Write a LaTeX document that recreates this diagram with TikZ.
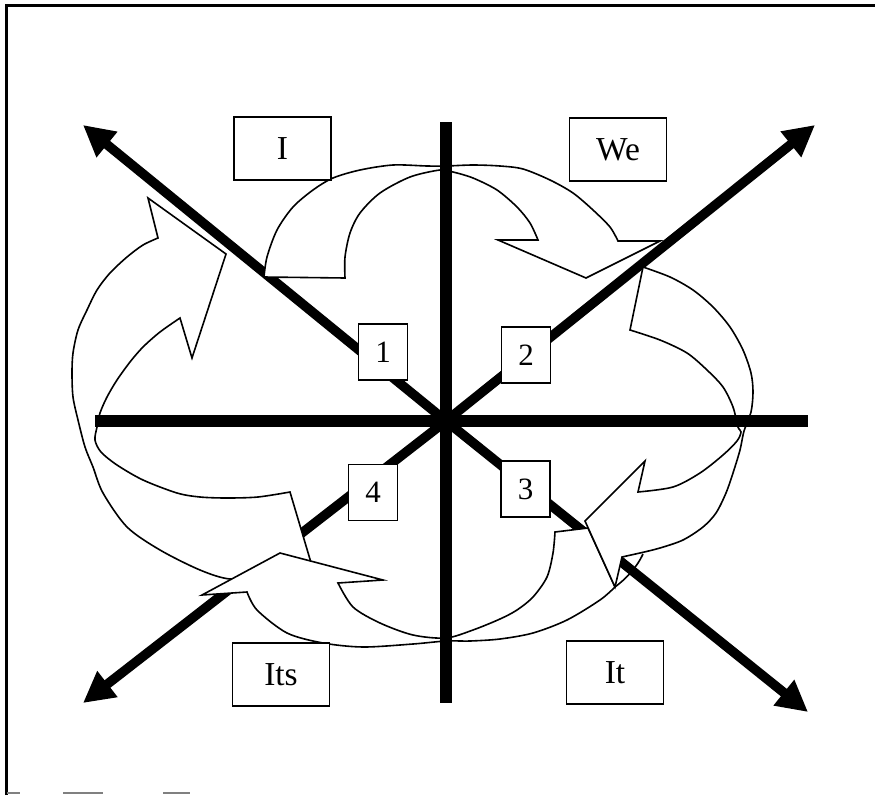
\documentclass[tikz,border=0pt]{standalone}
\usepackage{fontspec}
\setmainfont{Liberation Serif}
\usetikzlibrary{arrows.meta}
\begin{document}
\begin{tikzpicture}[x=1pt,y=-1pt,
  axisbar/.style={line width=12pt},
  diagbar/.style={line width=9.5pt,-{Triangle[length=31pt,width=31pt]}},
  ribbon/.style={draw=black,fill=white,line width=1.6pt,line join=miter},
  lbl/.style={draw,fill=white,line width=1.7pt,minimum width=97pt,minimum height=63pt,inner sep=0pt,font=\fontsize{33.5}{40}\selectfont},
  num/.style={draw,fill=white,line width=1.7pt,minimum width=49pt,minimum height=56pt,inner sep=0pt,font=\fontsize{31}{37}\selectfont},
]
\fill[white] (0,0) rectangle (875,795);
\useasboundingbox (0,0) rectangle (875,795);
% frame
\draw[line width=2.2pt] (6.5,795) -- (6.5,5.5) -- (875,5.5);
\draw[gray,line width=1.2pt] (7,793) -- (20,793) (63,793) -- (103,793) (163,793) -- (190,793);
% coordinates
\coordinate (c) at (446,421);
\coordinate (ul) at (83,125);
\coordinate (ur) at (815,125);
\coordinate (ll) at (83,703);
\coordinate (lr) at (808,712);
\coordinate (hl) at (95,421);
\coordinate (hr) at (808,421);
\coordinate (vt) at (446,122);
\coordinate (vb) at (446,703);
% diagonals
\draw[diagbar] (c) -- (ul);
\draw[diagbar] (c) -- (ur);
\draw[diagbar] (c) -- (ll);
\draw[diagbar] (c) -- (lr);
% arrow 4 (left)
\draw[ribbon] (290,492) -- plot[smooth] coordinates {(290,492) (258,497) (227,498) (200,497) (177,493) (143,480) (117,465) (101,452) (95,440) (97,427) (100,413) (107,397) (117,380) (130,362) (143,347) (160,332) (180,318)} -- (192,358) -- (226,254) -- (148,198) -- (158,238) -- plot[smooth] coordinates {(158,238) (143,245) (127,257) (110,273) (97,290) (87,310) (78,330) (73,353) (72,373) (73,397) (78,420) (85,447) (93,467) (103,493) (127,527) (160,550) (200,570) (230,579) (265,576) (300,569) (312,566)} -- cycle;
% arrow 3 (bottom)
\draw[ribbon] (555,532) -- (588,528) -- (615,587) -- plot[smooth] coordinates {(615,587) (600,600) (567,620) (533,633) (500,639) (470,641) (446,641) (413,644) (363,647) (323,643) (287,633) (257,610) (247,592)} -- (202,595) -- (280,553) -- (383,580) -- (338,583) -- plot[smooth] coordinates {(338,583) (353,607) (380,623) (413,635) (446,638) (473,630) (500,619) (517,610) (533,597) (547,577) (553,553) (555,532)} -- cycle;
% arrow 2 (right)
\draw[ribbon] (643,267) -- plot[smooth] coordinates {(643,267) (670,277) (693,290) (713,307) (730,327) (743,350) (751,373) (753,392) (751,412) (744,431) (740,450) (733,473) (726,493) (716,513) (703,527) (683,540) (660,548) (640,553)} -- (622,557) -- (615,587) -- (585,521) -- (645,461) -- (638,492) -- plot[smooth] coordinates {(638,492) (673,487) (700,473) (723,455) (737,441) (741,432) (738,427) (733,407) (723,387) (707,370) (687,353) (660,340) (630,330)} -- cycle;
\draw[line width=1.6pt] (615,587) .. controls (627,578) and (637,567) .. (643,554);
% arrow 1 (top)
\draw[ribbon] (264,277) -- plot[smooth] coordinates {(264,277) (267,257) (277,230) (293,207) (313,190) (333,178) (360,170) (393,165) (427,166) (446,166) (473,165) (500,166) (523,169) (550,180) (573,193) (593,210) (610,227) (618,241)} -- (660,241) -- (586,278) -- (498,240) -- (538,240) -- plot[smooth] coordinates {(538,240) (530,223) (517,207) (497,190) (473,178) (453,172) (440,170) (410,177) (380,193) (360,213) (350,233) (345,257) (345,278)} -- cycle;
% axes
\draw[axisbar] (hl) -- (hr);
\draw[axisbar] (vt) -- (vb);
% boxes
\node[lbl] (nI) at (282.5,148.5) {I};
\node[lbl] (nWe) at (618,149.5) {We};
\node[lbl] (nIts) at (281,674.5) {Its};
\node[lbl] (nIt) at (615,672.5) {It};
\node[num] (n1) at (383,352) {1};
\node[num] (n2) at (526,355) {2};
\node[num] (n3) at (525.5,489) {3};
\node[num] (n4) at (373,492.5) {4};
\end{tikzpicture}
\end{document}
